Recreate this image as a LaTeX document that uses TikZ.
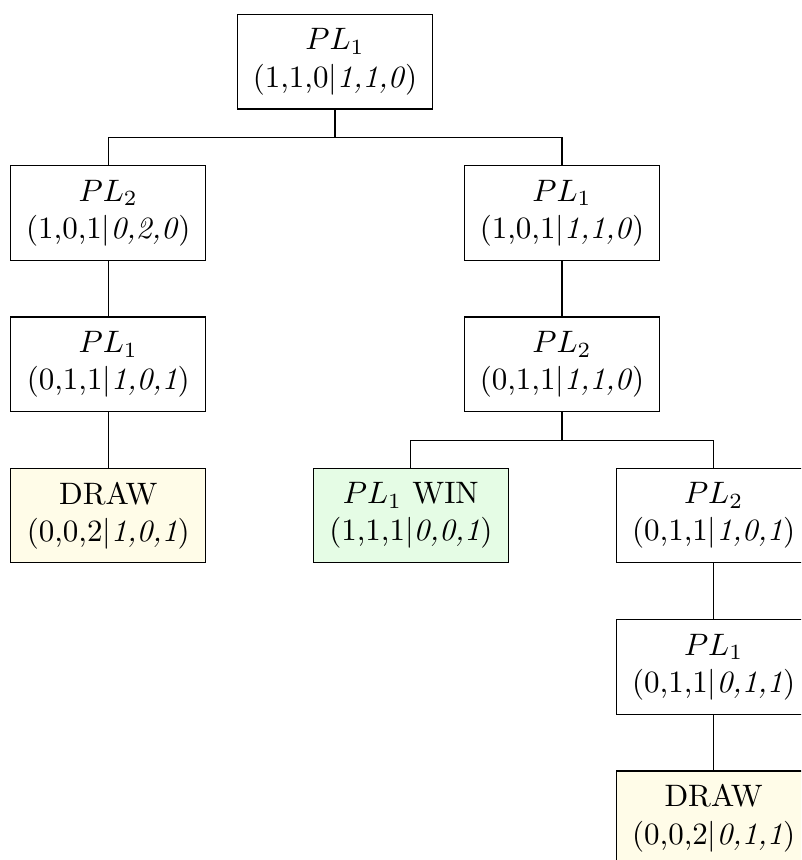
\documentclass[tikz,border=0pt]{standalone}
\usetikzlibrary{positioning}
\definecolor{drawfill}{RGB}{255,252,232}
\definecolor{winfill}{RGB}{229,252,229}
\tikzset{
  state/.style={draw, rectangle, align=center, minimum width=62.9pt,
    minimum height=30.5pt, inner sep=2pt},
  drawstate/.style={state, fill=drawfill},
  winstate/.style={state, fill=winfill},
  edge/.style={draw, line width=0.4pt}
}
\newcommand{\tri}[2]{(#1$|$\textit{#2})}
\begin{document}
\begin{tikzpicture}[x=0.3226pt, y=-0.3226pt]
  \useasboundingbox (0,0) rectangle (801,860);
  \clip (0,0) rectangle (801,860);

  % game states, one row per move
  \node[state] (root) at (335,61.7)  {$PL_1$\\\tri{1,1,0}{1,1,0}};
  \node[state] (a)    at (108.3,213) {$PL_2$\\\tri{1,0,1}{0,2,0}};
  \node[state] (b)    at (562,213)   {$PL_1$\\\tri{1,0,1}{1,1,0}};
  \node[state] (a1)   at (108.3,364.3) {$PL_1$\\\tri{0,1,1}{1,0,1}};
  \node[state] (b1)   at (562,364.3) {$PL_2$\\\tri{0,1,1}{1,1,0}};
  \node[drawstate] (a2) at (108.3,515.6) {DRAW\\\tri{0,0,2}{1,0,1}};
  \node[winstate] (b2)  at (410.8,515.6) {$PL_1$ WIN\\\tri{1,1,1}{0,0,1}};
  \node[state] (b3)   at (713.6,515.6) {$PL_2$\\\tri{0,1,1}{1,0,1}};
  \node[state] (b4)   at (713.6,667) {$PL_1$\\\tri{0,1,1}{0,1,1}};
  \node[drawstate] (b5) at (713.6,818.2) {DRAW\\\tri{0,0,2}{0,1,1}};

  % bus lines for the branching moves
  \coordinate (bus1) at (0,137.3);
  \coordinate (bus2) at (0,440.3);

  \draw[edge] (root.south) -- (root.south |- bus1) -| (a.north);
  \draw[edge] (root.south |- bus1) -| (b.north);
  \draw[edge] (a.south) -- (a1.north);
  \draw[edge] (a1.south) -- (a2.north);
  \draw[edge] (b.south) -- (b1.north);
  \draw[edge] (b1.south) -- (b1.south |- bus2) -| (b2.north);
  \draw[edge] (b1.south |- bus2) -| (b3.north);
  \draw[edge] (b3.south) -- (b4.north);
  \draw[edge] (b4.south) -- (b5.north);
\end{tikzpicture}
\end{document}
